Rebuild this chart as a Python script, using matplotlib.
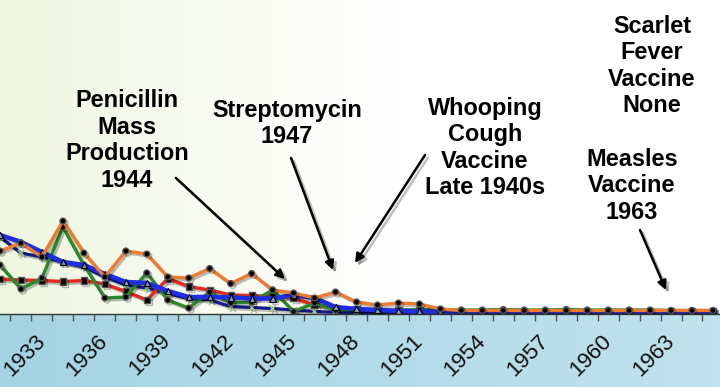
import numpy as np
import matplotlib
matplotlib.use("Agg")
import matplotlib.pyplot as plt
import matplotlib.patheffects as pe

years = list(range(1931, 1966))

orange = [63, 71, 57, 93, 61, 37, 63, 60, 37, 36, 45.5, 30.5, 40.5, 24, 21, 16, 22, 12, 9, 11,
          10, 5, 3.5, 3.5, 3.5, 3.5, 3.5, 3.5, 3.5, 3.5, 3.5, 3.5, 3.5, 3.5, 3.5]
green = [49, 25, 36, 87, 49, 16, 17, 41, 14, 6, 22, 11, 12, 24, 2.5, 11, 4, 4.5, 4, 4,
         4.5, 4, 4, 4, 4.5, 4, 4, 4.5, 4, 4, 4, 4, 3.5, 3.5, 3.5]
red = [35, 34, 33.5, 32.5, 33.5, 30, 22.5, 14, 35.5, 27.5, 24, 19, 18.5, 17.5, 16, 9, 6, 5, 4, 3.5,
       3.5, 3.5, 3, 3, 3, 3, 3, 3, 3, 3, 3, 3, 3, 3, 3]
blue = [79, 72, 62, 52, 49, 40, 32, 31, 23, 17, 17, 16.5, 15.5, 15.5, 19, 16, 7, 5, 4, 3,
        2.5, 2.5, 2.5, 2.5, 2.5, 2.5, 2.5, 2.5, 2.5, 2.5, 2.5, 2.5, 2.5, 2.5, 2.5]
navy = [77, 61, 57, 52, 47, 37, 29, 26, 20.5, 15.5, 14, 7.5, 6.5, 5.5, 4, 2.5, 1.7, 1.5, 1.5, 1.5,
        1.5, 1.5, 1.5, 1.5, 1.5, 1.5, 1.5, 1.5, 1.5, 1.5, 1.5, 1.5, 1.5, 1.5, 1.5]

label_years = list(range(1933, 1966, 3))

notes = [
    ("Penicillin\nMass\nProduction\n1944", (1937.06, 173.5)),
    ("Streptomycin\n1947", (1944.69, 190.5)),
    ("Whooping\nCough\nVaccine\nLate 1940s", (1954.13, 166)),
    ("Scarlet\nFever\nVaccine\nNone", (1962.09, 248)),
    ("Measles\nVaccine\n1963", (1961.14, 128)),
]
arrows = [
    ((1939.39, 136), (1944.59, 35)),
    ((1944.88, 156), (1946.88, 44)),
    ((1951.27, 159), (1947.93, 51)),
    ((1961.52, 84), (1962.76, 24)),
]

fig = plt.figure(figsize=(7.2, 3.87), dpi=100)

# background band (light blue)
bg = fig.add_axes([0, 0, 1, 1], zorder=0)
bg.axis("off")
band = np.linspace(0, 1, 256)[None, :]
c0 = np.array([166, 211, 227]) / 255
c1 = np.array([192, 227, 237]) / 255
bimg = c0[None, None, :] * (1 - band[..., None]) + c1[None, None, :] * band[..., None]
bg.imshow(bimg, aspect="auto", extent=[0, 1, 0, 1])
bg.set_xlim(0, 1)
bg.set_ylim(0, 1)

bottom = (387 - 314) / 387
ax = fig.add_axes([0, bottom, 1, 1 - bottom], zorder=1)
xmin, xmax = 1931, 1931 + 720 / 20.97
ymin, ymax = 0, 314

# gradient background of plot area
g = np.linspace(0, 1, 512)
w = np.clip(g / 0.55, 0, 1) ** 0.9
left = np.array([238, 246, 222]) / 255
white = np.array([255, 255, 255]) / 255
gimg = left[None, None, :] * (1 - w[None, :, None]) + white[None, None, :] * w[None, :, None]
gimg = np.repeat(gimg, 2, axis=0)
ax.imshow(gimg, aspect="auto", extent=[xmin, xmax, ymin, ymax], zorder=0)

shadow = [pe.SimpleLineShadow(offset=(1.5, -1.5), alpha=0.25), pe.Normal()]

ax.plot(years, navy, color="#141a8c", lw=2.3, marker="x", ms=4.5, mec="#9ccc7a", mew=1.2,
        zorder=3, path_effects=shadow)
ax.plot(years, red, color="#e8261c", lw=2.4, marker="s", ms=4.5, mfc="black", mec="#555555",
        zorder=4, path_effects=shadow)
ax.plot(years, green, color="#2a8a2a", lw=2.4, marker="o", ms=4.2, mfc="black", mec="#555555",
        zorder=5, path_effects=shadow)
ax.plot(years, blue, color="#1f2ee0", lw=3.3, marker="^", ms=4.5, mfc="#8a9bb0", mec="black",
        mew=0.8, zorder=6, path_effects=shadow)
ax.plot(years, orange, color="#f07a2e", lw=2.4, marker="o", ms=4.2, mfc="black", mec="#555555",
        zorder=7, path_effects=shadow)

for txt, (x, y) in notes:
    ax.text(x, y, txt, ha="center", va="center", fontsize=16.9, fontweight="bold",
            family="Liberation Sans", linespacing=1.2, color="black", zorder=10)

for (x0, y0), (x1, y1) in arrows:
    ax.annotate("", xy=(x1, y1), xytext=(x0, y0),
                arrowprops=dict(arrowstyle="-|>", lw=1.8, color="black", mutation_scale=13,
                                shrinkA=0, shrinkB=0,
                                path_effects=[pe.SimpleLineShadow(offset=(2, -2), alpha=0.25),
                                              pe.Normal()]),
                zorder=9)

for s in ["top", "left", "right"]:
    ax.spines[s].set_visible(False)
ax.spines["bottom"].set_color("#333333")
ax.spines["bottom"].set_linewidth(1.0)
ax.spines["bottom"].set_zorder(8)
ax.set_yticks([])

ax.set_xticks(label_years)
ax.set_xticklabels([str(y) for y in label_years], rotation=45, ha="right", va="center",
                   rotation_mode="anchor", fontsize=16, family="Liberation Sans", color="#111111")
ax.tick_params(axis="x", which="major", length=0, pad=17)
ax.set_xticks(np.arange(1931.5, 1965.5, 1.0), minor=True)
ax.tick_params(axis="x", which="minor", length=5, width=1, color="#555555", direction="out")

ax.set_xlim(xmin, xmax)
ax.set_ylim(ymin, ymax)

fig.savefig("out.png", dpi=100)
